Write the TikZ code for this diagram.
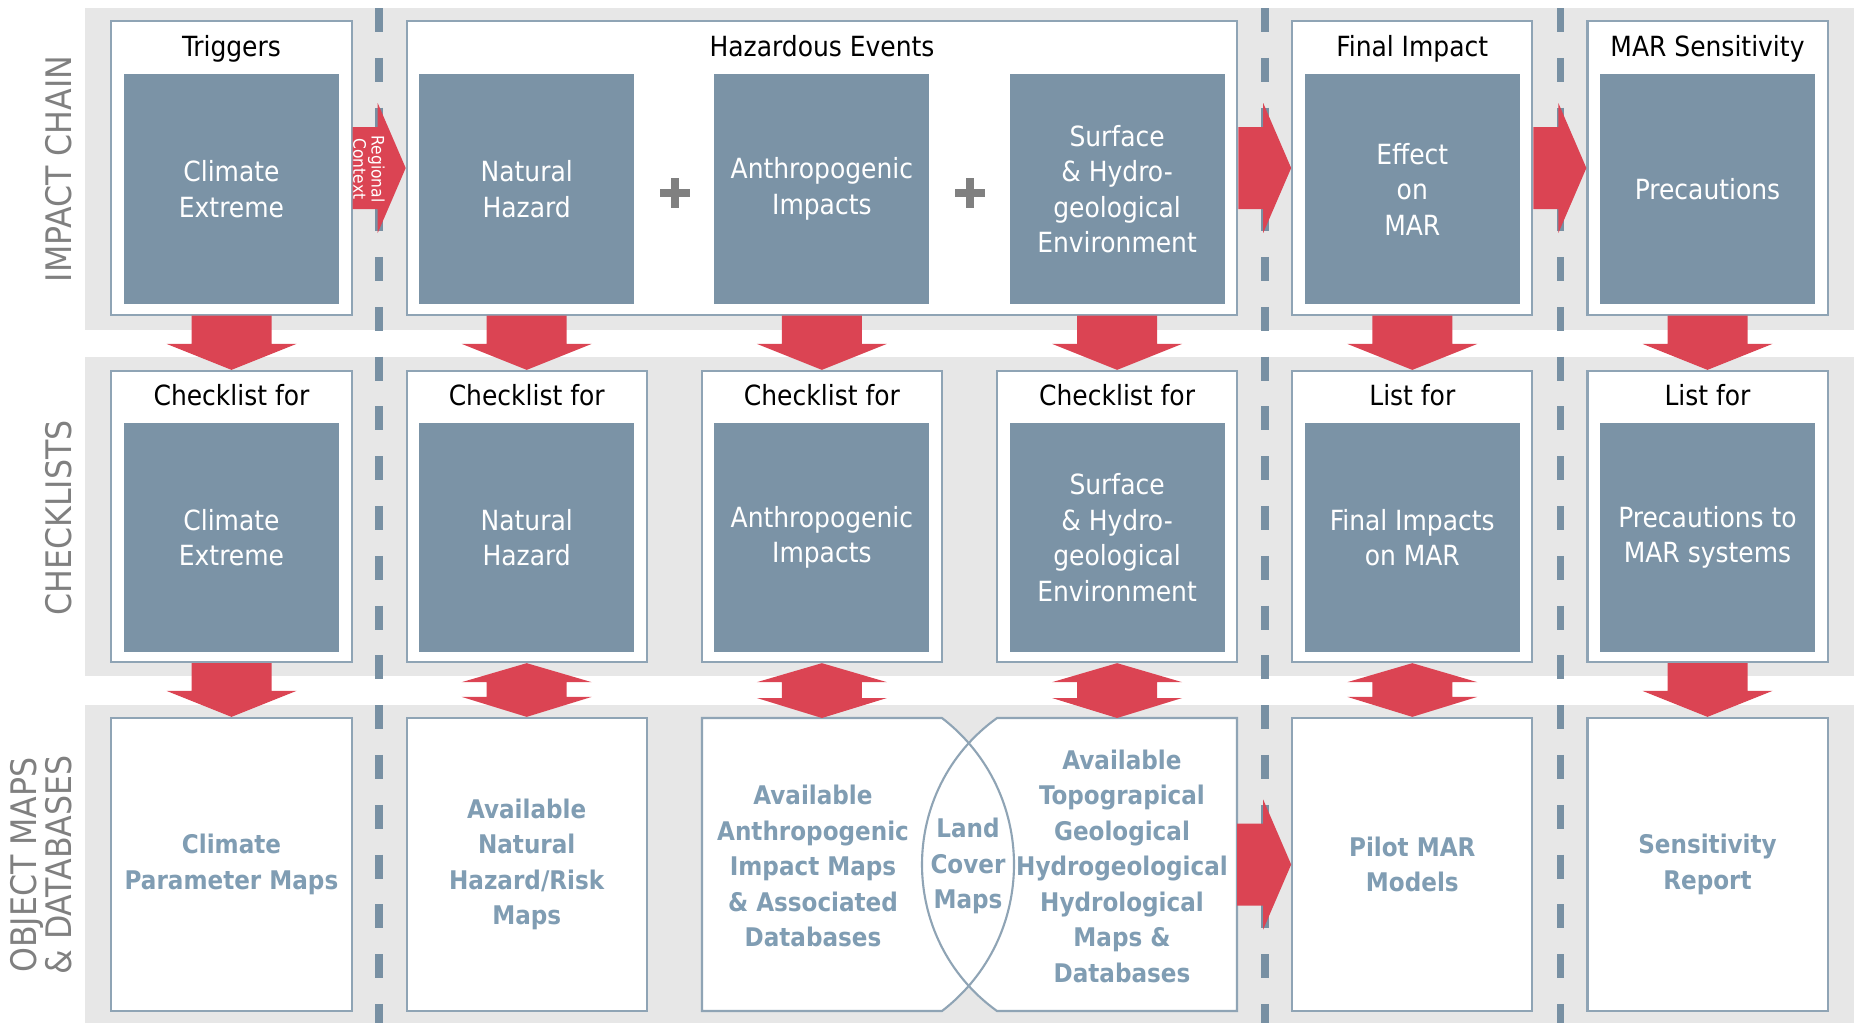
\documentclass[tikz,border=0pt]{standalone}
\usepackage{fontspec}
\setmainfont{DejaVu Sans Condensed}
\usetikzlibrary{calc}

\definecolor{bandgray}{HTML}{E7E7E7}
\definecolor{slate}{HTML}{7B93A6}
\definecolor{boxline}{HTML}{8FA4B5}
\definecolor{dashblue}{HTML}{7890A3}
\definecolor{arrowred}{HTML}{DB4453}
\definecolor{objblue}{HTML}{809DB3}
\definecolor{labelgray}{HTML}{808080}

\newcommand{\innerfont}{\fontsize{7.9}{10.1}\selectfont}
\newcommand{\objfont}{\fontsize{7.3}{10.1}\selectfont\bfseries}
\newcommand{\rowfont}{\fontsize{10}{10}\selectfont}
\newcommand{\regfont}{\fontsize{4.9}{5.2}\selectfont}

% block arrows between boxes
\newcommand{\blockdown}[2]{%
  \fill[arrowred] ($(#1)+(-40,0)$) -- ($(#1)+(40,0)$) -- ($(#2)+(40,-26)$) -- ($(#2)+(65,-26)$)
    -- (#2) -- ($(#2)+(-65,-26)$) -- ($(#2)+(-40,-26)$) -- cycle;}
\newcommand{\blockboth}[2]{%
  \fill[arrowred] (#1) -- ($(#1)+(65,19)$) -- ($(#1)+(40,19)$) -- ($(#2)+(40,-20)$) -- ($(#2)+(65,-20)$)
    -- (#2) -- ($(#2)+(-65,-20)$) -- ($(#2)+(-40,-20)$) -- ($(#1)+(-40,19)$) -- ($(#1)+(-65,19)$) -- cycle;}
\newcommand{\blockright}[2]{%
  \fill[arrowred] ($(#1)+(0,-41)$) -- ($(#2)+(-28,-41)$) -- ($(#2)+(-28,-65)$) -- (#2)
    -- ($(#2)+(-28,65)$) -- ($(#2)+(-28,41)$) -- ($(#1)+(0,41)$) -- cycle;}

\tikzset{
  band/.style={fill=bandgray},
  outerbox/.style={draw=boxline, line width=0.6pt, fill=white, minimum width=2.4cm, minimum height=2.93cm, inner sep=0pt},
  innerbox/.style={fill=slate, text=white, minimum width=2.15cm, minimum height=2.3cm, inner sep=0pt, align=center, font=\innerfont},
  heading/.style={text=black, font=\innerfont, text height=0.75em, text depth=0.25em},
  objtext/.style={text=objblue, font=\objfont, align=center},
  rowlabel/.style={text=labelgray, font=\rowfont, rotate=90, align=center},
  regtext/.style={text=white, font=\regfont, rotate=-90, align=center, inner sep=0pt},
  divider/.style={dashblue, line width=2pt, dash pattern=on 6.83pt off 7.33pt},
  plussign/.style={draw=labelgray, line width=2pt},
}

\begin{document}
\begin{tikzpicture}[x=0.01cm, y=-0.01cm]
\useasboundingbox (0,0) rectangle (1854,1023);
% bands
\fill[band] (85,8) rectangle (1854,330);
\fill[band] (85,357) rectangle (1854,676);
\fill[band] (85,705) rectangle (1854,1023);
\draw[divider] (379,8) -- (379,1023);
\draw[divider] (1265,8) -- (1265,1023);
\draw[divider] (1560,8) -- (1560,1023);

\node[rowlabel] (lab1) at (59,169) {IMPACT CHAIN};
\node[rowlabel] (lab2) at (59,518) {CHECKLISTS};
\node[rowlabel] (lab3) at (41,865) {OBJECT MAPS\\\& DATABASES};

% impact chain
\node[outerbox] (trig) at (231.5,168) {};
\node[outerbox, minimum width=8.3cm] (haz) at (822,168) {};
\node[outerbox] (fin) at (1412.3,168) {};
\node[outerbox] (sen) at (1707.5,168) {};
\node[heading] (trigt) at (231.5,48) {Triggers};
\node[heading] (hazt) at (822,48) {Hazardous Events};
\node[heading] (fint) at (1412.3,48) {Final Impact};
\node[heading] (sent) at (1707.5,48) {MAR Sensitivity};
\node[innerbox] (cli) at (231.5,189) {Climate\\Extreme};
\node[innerbox] (nat) at (526.7,189) {Natural\\Hazard};
\node[innerbox] (ant) at (821.9,189) {Anthropogenic\\Impacts};
\node[innerbox] (sur) at (1117.1,189) {Surface\\\& Hydro-\\geological\\Environment};
\node[innerbox] (eff) at (1412.3,189) {Effect\\on\\MAR};
\node[innerbox] (pre) at (1707.5,189) {Precautions};
\draw[plussign] (675,178) -- (675,208) (660,193) -- (690,193);
\draw[plussign] (970,178) -- (970,208) (955,193) -- (985,193);

% checklists
\node[outerbox, minimum height=2.91cm] (c1) at (231.5,516.5) {};
\node[outerbox, minimum height=2.91cm] (c2) at (526.7,516.5) {};
\node[outerbox, minimum height=2.91cm] (c3) at (821.9,516.5) {};
\node[outerbox, minimum height=2.91cm] (c4) at (1117.1,516.5) {};
\node[outerbox, minimum height=2.91cm] (c5) at (1412.3,516.5) {};
\node[outerbox, minimum height=2.91cm] (c6) at (1707.5,516.5) {};
\node[heading] (c1t) at (231.5,397) {Checklist for};
\node[heading] (c2t) at (526.7,397) {Checklist for};
\node[heading] (c3t) at (821.9,397) {Checklist for};
\node[heading] (c4t) at (1117.1,397) {Checklist for};
\node[heading] (c5t) at (1412.3,397) {List for};
\node[heading] (c6t) at (1707.5,397) {List for};
\node[innerbox, minimum height=2.29cm] (ccli) at (231.5,537.5) {Climate\\Extreme};
\node[innerbox, minimum height=2.29cm] (cnat) at (526.7,537.5) {Natural\\Hazard};
\node[innerbox, minimum height=2.29cm] (cant) at (821.9,537.5) {Anthropogenic\\Impacts};
\node[innerbox, minimum height=2.29cm] (csur) at (1117.1,537.5) {Surface\\\& Hydro-\\geological\\Environment};
\node[innerbox, minimum height=2.29cm] (cfin) at (1412.3,537.5) {Final Impacts\\on MAR};
\node[innerbox, minimum height=2.29cm] (cpre) at (1707.5,537.5) {Precautions to\\MAR systems};

% object maps and databases
\node[outerbox, objtext] (o1) at (231.5,864.5) {Climate\\Parameter Maps};
\node[outerbox, objtext] (o2) at (526.7,864.5) {Available\\Natural\\Hazard/Risk\\Maps};
\node[outerbox, objtext] (o5) at (1412.3,864.5) {Pilot MAR\\Models};
\node[outerbox, objtext] (o6) at (1707.5,864.5) {Sensitivity\\Report};
\fill[white] (702,718) -- (942,718) .. controls (1038,792) and (1038,937) .. (942,1011) -- (702,1011) -- cycle;
\fill[white] (1237,718) -- (997,718) .. controls (897,790) and (897,939) .. (997,1011) -- (1237,1011) -- cycle;
\draw[boxline, line width=0.6pt] (702,718) -- (942,718) .. controls (1038,792) and (1038,937) .. (942,1011) -- (702,1011) -- cycle;
\draw[boxline, line width=0.6pt] (1237,718) -- (997,718) .. controls (897,790) and (897,939) .. (997,1011) -- (1237,1011) -- cycle;
\coordinate (o3n) at (821.9,718);
\coordinate (o4n) at (1117.1,718);
\coordinate (o4e) at (1237,864.5);
\node[objtext] (antmap) at (813,866) {Available\\Anthropogenic\\Impact Maps\\\& Associated\\Databases};
\node[objtext] (land) at (968,866) {Land\\Cover\\Maps};
\node[objtext] (geomap) at (1122,866) {Available\\Topograpical\\Geological\\Hydrogeological\\Hydrological\\Maps \&\\Databases};

% arrows
\blockright{trig.east}{haz.west}
\node[regtext] (reg) at (369,169) {Regional\\Context};
\blockright{haz.east}{fin.west}
\blockright{fin.east}{sen.west}
\blockright{o4e}{o5.west}
\blockdown{trig.south}{c1.north}
\blockdown{nat |- haz.south}{c2.north}
\blockdown{ant |- haz.south}{c3.north}
\blockdown{sur |- haz.south}{c4.north}
\blockdown{fin.south}{c5.north}
\blockdown{sen.south}{c6.north}
\blockdown{c1.south}{o1.north}
\blockboth{c2.south}{o2.north}
\blockboth{c3.south}{o3n}
\blockboth{c4.south}{o4n}
\blockboth{c5.south}{o5.north}
\blockdown{c6.south}{o6.north}
\end{tikzpicture}
\end{document}
